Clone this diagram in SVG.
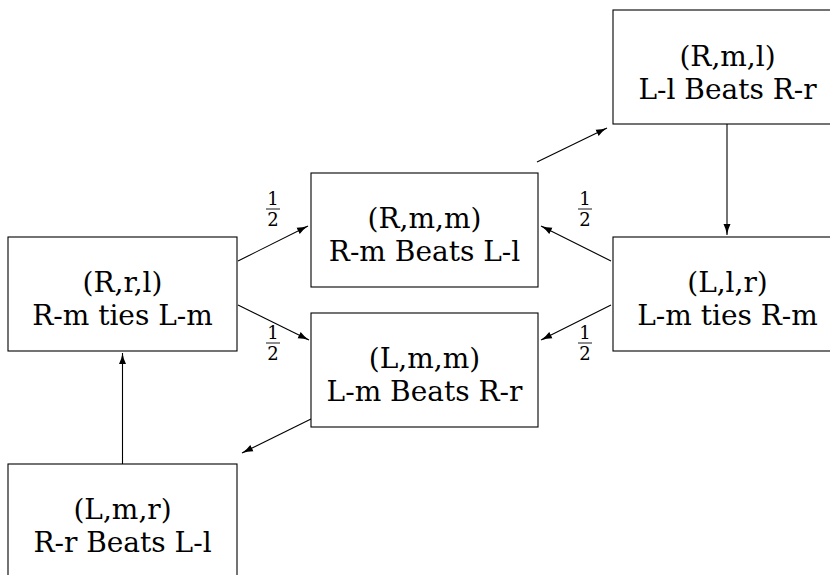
<svg xmlns="http://www.w3.org/2000/svg" width="830" height="575" viewBox="0 0 830 575">
<style>
  .box { fill: #ffffff; stroke: #000000; stroke-width: 1.1; }
  .lbl { font-family: 'DejaVu Serif', 'Liberation Serif', serif; font-size: 28px; text-anchor: middle; fill: #000000; }
  .frac { font-family: 'DejaVu Serif', 'Liberation Serif', serif; font-size: 18px; text-anchor: middle; fill: #000000; }
  .edge { stroke: #000000; stroke-width: 1.1; fill: none; marker-end: url(#arr); }
  .bar { stroke: #000000; stroke-width: 0.9; }
</style>
<defs>
  <marker id="arr" markerUnits="userSpaceOnUse" markerWidth="12" markerHeight="8" refX="11" refY="4" orient="auto">
    <path d="M0,0.5 Q5,3 11,4 Q5,5 0,7.5 Z" fill="#000000"/>
  </marker>
</defs>
<rect width="830" height="575" fill="#ffffff"/>

<g id="connectors">
  <line class="edge" x1="238" y1="261" x2="308" y2="226"/>
  <line class="edge" x1="238" y1="305" x2="309" y2="340"/>
  <line class="edge" x1="611" y1="261" x2="541" y2="226"/>
  <line class="edge" x1="611" y1="305" x2="541" y2="340"/>
  <line class="edge" x1="537" y1="162" x2="607" y2="128"/>
  <line class="edge" x1="727" y1="124" x2="727" y2="235"/>
  <line class="edge" x1="311" y1="419" x2="242" y2="453"/>
  <line class="edge" x1="122.5" y1="464" x2="122.5" y2="353"/>
  <g id="frac1">
    <text class="frac" x="273" y="205">1</text>
    <line class="bar" x1="266" y1="209" x2="280" y2="209"/>
    <text class="frac" x="273" y="226">2</text>
  </g>
  <g id="frac2">
    <text class="frac" x="273" y="339">1</text>
    <line class="bar" x1="266" y1="343" x2="280" y2="343"/>
    <text class="frac" x="273" y="360">2</text>
  </g>
  <g id="frac3">
    <text class="frac" x="585" y="205">1</text>
    <line class="bar" x1="578" y1="209" x2="592" y2="209"/>
    <text class="frac" x="585" y="226">2</text>
  </g>
  <g id="frac4">
    <text class="frac" x="585" y="339">1</text>
    <line class="bar" x1="578" y1="343" x2="592" y2="343"/>
    <text class="frac" x="585" y="360">2</text>
  </g>
</g>

<g id="RML">
  <rect class="box" x="613" y="10" width="229" height="114"/>
  <text class="lbl" x="727.5" y="66">(R,m,l)</text>
  <text class="lbl" x="727.5" y="99">L-l Beats R-r</text>
</g>
<g id="RMM">
  <rect class="box" x="311" y="173" width="227" height="114"/>
  <text class="lbl" x="424.5" y="228">(R,m,m)</text>
  <text class="lbl" x="424.5" y="261">R-m Beats L-l</text>
</g>
<g id="RRL">
  <rect class="box" x="8" y="237" width="229" height="114"/>
  <text class="lbl" x="122.5" y="292">(R,r,l)</text>
  <text class="lbl" x="122.5" y="325">R-m ties L-m</text>
</g>
<g id="LLR">
  <rect class="box" x="613" y="237" width="229" height="114"/>
  <text class="lbl" x="727.5" y="292">(L,l,r)</text>
  <text class="lbl" x="727.5" y="325">L-m ties R-m</text>
</g>
<g id="LMM">
  <rect class="box" x="311" y="313" width="227" height="114"/>
  <text class="lbl" x="424.5" y="368">(L,m,m)</text>
  <text class="lbl" x="424.5" y="401">L-m Beats R-r</text>
</g>
<g id="LMR">
  <rect class="box" x="8" y="464" width="229" height="114"/>
  <text class="lbl" x="122.5" y="519">(L,m,r)</text>
  <text class="lbl" x="122.5" y="552">R-r Beats L-l</text>
</g>
</svg>
